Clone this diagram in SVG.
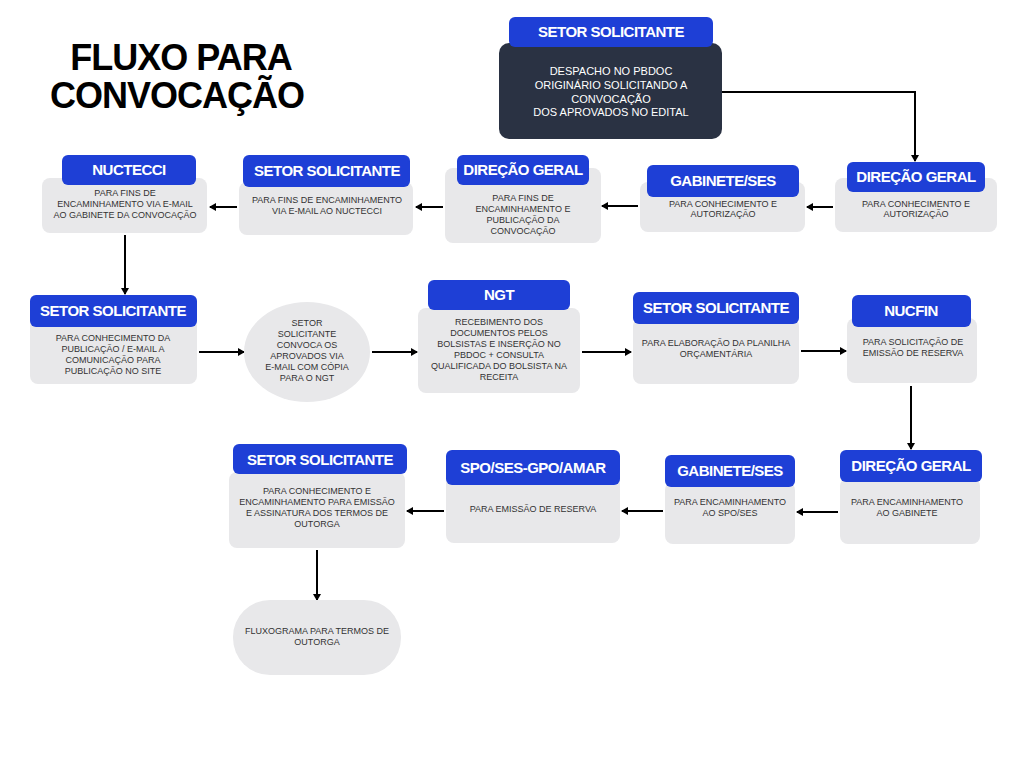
<svg xmlns="http://www.w3.org/2000/svg" width="1024" height="768" viewBox="0 0 1024 768">
<style>
.g{fill:#e8e8ea}
.b{fill:#1e3fd6}
.h{font-family:"Liberation Sans",Arial,sans-serif;font-weight:bold;font-size:15px;fill:#fff;text-anchor:middle;letter-spacing:-0.5px}
.t{font-family:"Liberation Sans",Arial,sans-serif;font-size:9px;fill:#333;text-anchor:middle}
.w{font-family:"Liberation Sans",Arial,sans-serif;font-size:11px;fill:#fff;text-anchor:middle}
.c{stroke:#000;stroke-width:2;fill:none;marker-end:url(#a)}
</style>
<defs><marker id="a" markerWidth="8" markerHeight="8" refX="6" refY="4" orient="auto" markerUnits="userSpaceOnUse"><path d="M0,0L7,4L0,8z" fill="#000"/></marker></defs>
<rect width="1024" height="768" fill="#fff"/>
<text x="181" y="70" font-family="Liberation Sans,Arial,sans-serif" font-weight="bold" font-size="36" text-anchor="middle" letter-spacing="-1">FLUXO PARA</text>
<text x="177" y="108" font-family="Liberation Sans,Arial,sans-serif" font-weight="bold" font-size="36" text-anchor="middle" letter-spacing="-1">CONVOCAÇÃO</text>
<g id="connectors">
<path class="c" d="M722,92H915V161"/>
<path class="c" d="M833,207H807"/>
<path class="c" d="M638,206H602"/>
<path class="c" d="M443,207H416"/>
<path class="c" d="M237,207H210"/>
<path class="c" d="M125,235V294"/>
<path class="c" d="M199,352H244"/>
<path class="c" d="M372,352H417"/>
<path class="c" d="M582,352H631"/>
<path class="c" d="M801,351H846"/>
<path class="c" d="M911,386V449"/>
<path class="c" d="M838,512H797"/>
<path class="c" d="M663,511H622"/>
<path class="c" d="M444,511H407"/>
<path class="c" d="M317,550V600"/>
</g>
<g id="n0"><rect x="499" y="43" width="223" height="96" rx="10" fill="#2a3243"/><rect class="b" x="509" y="17" width="204" height="30" rx="6"/><text class="h" x="611" y="37">SETOR SOLICITANTE</text>
<text class="w" x="611" y="75">DESPACHO NO PBDOC</text><text class="w" x="611" y="89">ORIGINÁRIO SOLICITANDO A</text><text class="w" x="611" y="103">CONVOCAÇÃO</text><text class="w" x="611" y="116">DOS APROVADOS  NO EDITAL</text></g>
<g id="n1"><rect class="g" x="835" y="178" width="162" height="54" rx="8"/><rect class="b" x="847" y="162" width="138" height="30" rx="6"/><text class="h" x="916" y="182">DIREÇÃO GERAL</text><text class="t" x="916" y="207">PARA CONHECIMENTO E</text><text class="t" x="916" y="217">AUTORIZAÇÃO</text></g>
<g id="n2"><rect class="g" x="640" y="182" width="165" height="50" rx="8"/><rect class="b" x="647" y="165" width="152" height="32" rx="6"/><text class="h" x="723" y="186">GABINETE/SES</text><text class="t" x="723" y="207">PARA CONHECIMENTO E</text><text class="t" x="723" y="217">AUTORIZAÇÃO</text></g>
<g id="n3"><rect class="g" x="445" y="168" width="156" height="75" rx="8"/><rect class="b" x="457" y="155" width="132" height="30" rx="6"/><text class="h" x="523" y="175">DIREÇÃO GERAL</text><text class="t" x="523" y="201">PARA FINS DE</text><text class="t" x="523" y="212">ENCAMINHAMENTO E</text><text class="t" x="523" y="223">PUBLICAÇÃO DA</text><text class="t" x="523" y="234">CONVOCAÇÃO</text></g>
<g id="n4"><rect class="g" x="239" y="182" width="174" height="53" rx="8"/><rect class="b" x="243" y="155" width="167" height="32" rx="6"/><text class="h" x="327" y="176">SETOR SOLICITANTE</text><text class="t" x="327" y="203">PARA FINS DE ENCAMINHAMENTO</text><text class="t" x="327" y="214">VIA E-MAIL AO NUCTECCI</text></g>
<g id="n5"><rect class="g" x="42" y="178" width="165" height="55" rx="8"/><rect class="b" x="62" y="155" width="134" height="30" rx="6"/><text class="h" x="129" y="175">NUCTECCI</text><text class="t" x="125" y="196">PARA FINS DE</text><text class="t" x="125" y="207">ENCAMINHAMENTO VIA E-MAIL</text><text class="t" x="125" y="218">AO GABINETE DA CONVOCAÇÃO</text></g>
<g id="n6"><rect class="g" x="30" y="318" width="167" height="66" rx="8"/><rect class="b" x="30" y="295" width="167" height="32" rx="6"/><text class="h" x="113" y="316">SETOR SOLICITANTE</text><text class="t" x="113" y="341">PARA CONHECIMENTO DA</text><text class="t" x="113" y="352">PUBLICAÇÃO / E-MAIL A</text><text class="t" x="113" y="363">COMUNICAÇÃO PARA</text><text class="t" x="113" y="374">PUBLICAÇÃO NO SITE</text></g>
<g id="n7"><ellipse class="g" cx="307" cy="352" rx="63" ry="50"/><text class="t" x="307" y="326">SETOR</text><text class="t" x="307" y="337">SOLICITANTE</text><text class="t" x="307" y="348">CONVOCA OS</text><text class="t" x="307" y="359">APROVADOS VIA</text><text class="t" x="307" y="370">E-MAIL COM CÓPIA</text><text class="t" x="307" y="381">PARA O NGT</text></g>
<g id="n8"><rect class="g" x="418" y="308" width="162" height="85" rx="8"/><rect class="b" x="428" y="280" width="142" height="30" rx="6"/><text class="h" x="499" y="300">NGT</text><text class="t" x="499" y="325">RECEBIMENTO DOS</text><text class="t" x="499" y="336">DOCUMENTOS PELOS</text><text class="t" x="499" y="347">BOLSISTAS E INSERÇÃO NO</text><text class="t" x="499" y="358">PBDOC + CONSULTA</text><text class="t" x="499" y="369">QUALIFICADA DO BOLSISTA NA</text><text class="t" x="499" y="380">RECEITA</text></g>
<g id="n9"><rect class="g" x="633" y="318" width="166" height="66" rx="8"/><rect class="b" x="633" y="292" width="166" height="32" rx="6"/><text class="h" x="716" y="313">SETOR SOLICITANTE</text><text class="t" x="716" y="346">PARA ELABORAÇÃO DA PLANILHA</text><text class="t" x="716" y="357">ORÇAMENTÁRIA</text></g>
<g id="n10"><rect class="g" x="847" y="318" width="130" height="65" rx="8"/><rect class="b" x="852" y="295" width="119" height="32" rx="6"/><text class="h" x="911" y="316">NUCFIN</text><text class="t" x="913" y="345">PARA SOLICITAÇÃO DE</text><text class="t" x="913" y="356">EMISSÃO DE RESERVA</text></g>
<g id="n11"><rect class="g" x="840" y="478" width="140" height="66" rx="8"/><rect class="b" x="840" y="450" width="142" height="32" rx="6"/><text class="h" x="911" y="471">DIREÇÃO GERAL</text><text class="t" x="907" y="505">PARA ENCAMINHAMENTO</text><text class="t" x="907" y="516">AO GABINETE</text></g>
<g id="n12"><rect class="g" x="665" y="482" width="130" height="62" rx="8"/><rect class="b" x="665" y="455" width="130" height="32" rx="6"/><text class="h" x="730" y="476">GABINETE/SES</text><text class="t" x="730" y="505">PARA ENCAMINHAMENTO</text><text class="t" x="730" y="516">AO SPO/SES</text></g>
<g id="n13"><rect class="g" x="446" y="474" width="174" height="69" rx="8"/><rect class="b" x="446" y="450" width="174" height="35" rx="6"/><text class="h" x="533" y="473">SPO/SES-GPO/AMAR</text><text class="t" x="533" y="512">PARA EMISSÃO DE RESERVA</text></g>
<g id="n14"><rect class="g" x="229" y="472" width="176" height="76" rx="8"/><rect class="b" x="233" y="444" width="174" height="30" rx="6"/><text class="h" x="320" y="465">SETOR SOLICITANTE</text><text class="t" x="317" y="494">PARA CONHECIMENTO E</text><text class="t" x="317" y="505">ENCAMINHAMENTO PARA EMISSÃO</text><text class="t" x="317" y="516">E ASSINATURA DOS TERMOS DE</text><text class="t" x="317" y="527">OUTORGA</text></g>
<g id="n15"><rect class="g" x="233" y="600" width="168" height="75" rx="37"/><text class="t" x="317" y="634">FLUXOGRAMA PARA TERMOS DE</text><text class="t" x="317" y="645">OUTORGA</text></g>
</svg>
